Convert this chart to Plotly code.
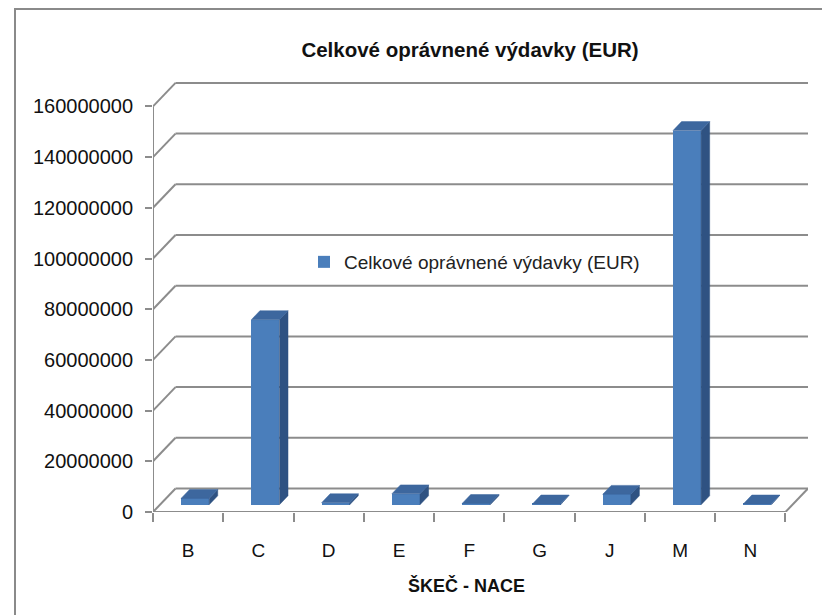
import plotly.graph_objects as go

# ---------------- data ----------------
categories = ["B", "C", "D", "E", "F", "G", "J", "M", "N"]
values = [2500000, 73000000, 800000, 4300000, 500000, 300000, 4100000, 147600000, 300000]
y_ticks = [0, 20000000, 40000000, 60000000, 80000000, 100000000, 120000000, 140000000, 160000000]
series_name = "Celkové oprávnené výdavky (EUR)"
title_text = "Celkové oprávnené výdavky (EUR)"
x_title = "ŠKEČ - NACE"

# ---------------- geometry / style ----------------
OFF = 8                               # default page body margin
W, H = 830 - OFF, 615 - OFF           # figure size that fits the window
PL, PR, PT, PB = 153, 808, 75, 512    # plot area in page pixels
L, R, T, B = PL - OFF, W - (PR - OFF), PT - OFF, H - (PB - OFF)
plot_w, plot_h = W - L - R, H - T - B
n = len(categories)
px_per_x = 632 / n                    # pixels per category
px_per_y = 50.7 / 20000000            # pixels per value unit
DX = 22.5 / px_per_x                  # depth offset (x units)
DY = 23.5 / px_per_y                  # depth offset (y units)
x_lo, x_hi = -0.5, n - 0.5 + DX
y_hi = plot_h / px_per_y

BAR_W = 0.40
A_FRONT, A_BACK = 0.31, 0.69
FRONT = "#4A7EBB"
TOP = "#3D679E"
SIDE = "#2F5282"
GRID = "#8C8C8C"
FONT = "Liberation Sans, Arial, sans-serif"

xs = list(range(n))

fig = go.Figure()

# front faces of bars
fig.add_trace(go.Bar(
    x=[c + A_FRONT * DX for c in xs],
    y=values,
    base=[A_FRONT * DY] * n,
    width=BAR_W,
    marker=dict(color=FRONT, line=dict(width=0)),
    name=series_name,
    showlegend=True,
    hoverinfo="skip",
))

# side & top faces computed from values
d = A_BACK - A_FRONT
side_x, side_y, top_x, top_y = [], [], [], []
for c, v in zip(xs, values):
    xl = c - BAR_W / 2 + A_FRONT * DX
    xr = c + BAR_W / 2 + A_FRONT * DX
    y0 = A_FRONT * DY
    side_x += [xr, xr + d * DX, xr + d * DX, xr, xr, None]
    side_y += [y0, y0 + d * DY, y0 + d * DY + v, y0 + v, y0, None]
    top_x += [xl, xr, xr + d * DX, xl + d * DX, xl, None]
    top_y += [y0 + v, y0 + v, y0 + v + d * DY, y0 + v + d * DY, y0 + v, None]

fig.add_trace(go.Scatter(x=side_x, y=side_y, mode="lines", fill="toself",
                         fillcolor=SIDE, line=dict(width=0.5, color=SIDE),
                         showlegend=False, hoverinfo="skip"))
fig.add_trace(go.Scatter(x=top_x, y=top_y, mode="lines", fill="toself",
                         fillcolor=TOP, line=dict(width=0.5, color=TOP),
                         showlegend=False, hoverinfo="skip"))

# back-wall gridlines and side-wall diagonals (derived from tick values)
shapes = []
for v in y_ticks:
    shapes.append(dict(type="line", xref="x", yref="y", x0=x_lo, y0=v, x1=x_lo + DX, y1=v + DY,
                       line=dict(color=GRID, width=2), layer="below"))
    shapes.append(dict(type="line", xref="x", yref="y", x0=x_lo + DX, y0=v + DY, x1=x_hi, y1=v + DY,
                       line=dict(color=GRID, width=2), layer="below"))
# floor front edge and right edge
shapes.append(dict(type="line", xref="x", yref="y", x0=x_lo, y0=0, x1=n - 0.5, y1=0,
                   line=dict(color=GRID, width=2), layer="below"))
shapes.append(dict(type="line", xref="x", yref="y", x0=n - 0.5, y0=0, x1=x_hi, y1=DY,
                   line=dict(color=GRID, width=2), layer="below"))
# front value axis
shapes.append(dict(type="line", xref="x", yref="y", x0=x_lo, y0=0, x1=x_lo, y1=y_ticks[-1],
                   line=dict(color=GRID, width=2), layer="below"))
# outer chart border (page px 15 left, 9 top; runs off right/bottom)
shapes.append(dict(type="rect", xref="paper", yref="paper",
                   x0=(15 - OFF - L) / plot_w, x1=(W + 10 - L) / plot_w,
                   y0=-(H + 10 - (T + plot_h)) / plot_h, y1=(T + plot_h - (9 - OFF)) / plot_h,
                   line=dict(color="#8A8A8A", width=2), fillcolor="rgba(0,0,0,0)", layer="below"))

fig.update_layout(
    width=W, height=H,
    margin=dict(l=L, r=R, t=T, b=B, pad=0, autoexpand=False),
    paper_bgcolor="white", plot_bgcolor="rgba(0,0,0,0)",
    font=dict(family=FONT, color="#111111", size=19),
    title=dict(text="<b>" + title_text + "</b>", x=(470 - OFF) / W, xanchor="center",
               y=1 - (50 - OFF) / H, yanchor="middle", xref="container", yref="container",
               font=dict(size=20.5, family=FONT, color="#111111"), automargin=False),
    shapes=shapes,
    annotations=[dict(text="<b>" + x_title + "</b>", xref="paper", yref="paper",
                      x=(466 - OFF - L) / plot_w, y=-(585 - OFF - (T + plot_h)) / plot_h,
                      xanchor="center", yanchor="middle", showarrow=False,
                      font=dict(size=18, family=FONT, color="#111111"))],
    showlegend=True,
    legend=dict(x=(304 - OFF - L) / plot_w, y=(T + plot_h - (262 - OFF)) / plot_h,
                xanchor="left", yanchor="middle",
                bgcolor="rgba(0,0,0,0)", font=dict(size=19, family=FONT, color="#222222"),
                borderwidth=0),
    bargap=0,
)

fig.update_xaxes(
    range=[x_lo, x_hi], showgrid=False, zeroline=False, showline=False, automargin=False,
    tickmode="array", tickvals=xs, ticktext=categories, ticks="", ticklen=0,
    tickfont=dict(size=19, family=FONT, color="#111111"),
    ticklabelstandoff=25,
    minor=dict(tickmode="array", tickvals=[c - 0.5 for c in range(n + 1)], ticks="outside",
               ticklen=9, tickwidth=2, tickcolor=GRID, showgrid=False),
)
fig.update_yaxes(
    range=[0, y_hi], showgrid=False, zeroline=False, showline=False, automargin=False,
    tickmode="array", tickvals=y_ticks, tickformat="d",
    ticks="outside", ticklen=7, tickwidth=2, tickcolor=GRID,
    tickfont=dict(size=20, family=FONT, color="#111111"),
    ticklabelstandoff=8,
)

fig.write_html("out.html")
